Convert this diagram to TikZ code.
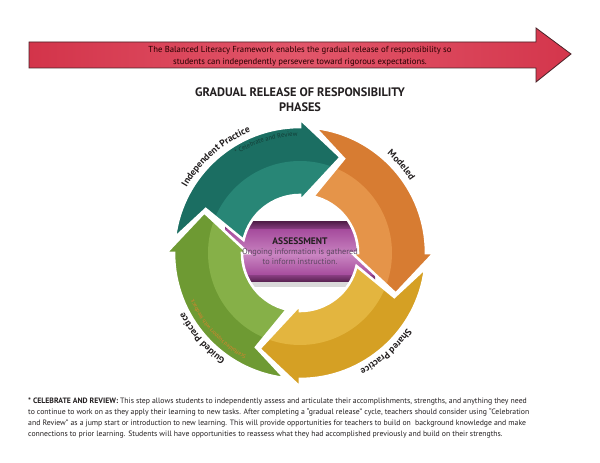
\documentclass[tikz,border=0pt]{standalone}
\usepackage{fontspec}
\setmainfont{PT Sans}
\usetikzlibrary{decorations.text}
\definecolor{redA}{HTML}{D3344A}
\definecolor{redB}{HTML}{E2566A}
\definecolor{redEdge}{HTML}{4A2228}
\definecolor{tealA}{HTML}{1B6E62}
\definecolor{tealB}{HTML}{288676}
\definecolor{orA}{HTML}{D77C32}
\definecolor{orB}{HTML}{E59449}
\definecolor{yeA}{HTML}{D5A024}
\definecolor{yeB}{HTML}{E3B53F}
\definecolor{grA}{HTML}{6E9A33}
\definecolor{grB}{HTML}{86B048}
\definecolor{puDark}{HTML}{55204D}
\definecolor{puMid}{HTML}{A4499B}
\definecolor{puLight}{HTML}{C984C1}
\definecolor{puText}{HTML}{5E4762}
\definecolor{txtDark}{HTML}{231F20}
\definecolor{celeb}{HTML}{123C36}
\definecolor{orText}{HTML}{D9822E}
\def\ringarrowpath#1{({#1+83}:126) arc[start angle={#1+83}, end angle={#1}, radius=126] -- ({#1}:134) -- ({#1-23}:104) -- ({#1}:52) -- ({#1}:58) arc[start angle={#1}, end angle={#1+77}, radius=58] -- ({#1+65}:104) -- cycle}
\tikzset{
  labeltext/.style={decorate, decoration={text along path, text align=center, text={|\bfseries\fontsize{9.5}{10}\selectfont\color{txtDark}|#1}}},
  smalltext/.style={font=\fontsize{7.75}{9}\selectfont, text=txtDark, inner sep=0pt}
}
\begin{document}
\begin{tikzpicture}[x=1pt,y=1pt]
\useasboundingbox (0,0) rectangle (600,463);
\fill[white] (0,0) rectangle (600,463);
% top red arrow
\path[draw=redEdge, line width=0.8pt, left color=redA, right color=redA!95!redB, middle color=redB, line join=miter]
  (29,421) -- (536,421) -- (536,435) -- (571,409) -- (536,381) -- (536,395) -- (29,395) -- cycle;
\node[inner sep=0pt, align=center, font=\fontsize{8.7}{12}\selectfont, text=black!85!red] (redtxt) at (300,407)
  {The Balanced Literacy Framework enables the gradual release of responsibility so\\students can independently persevere toward rigorous expectations.};
% title
\node[font=\bfseries\fontsize{12.3}{15}\selectfont, text=txtDark, align=center, inner sep=0pt] (title) at (300,363)
  {GRADUAL RELEASE OF RESPONSIBILITY\\PHASES};
% assessment box
\fill[black, opacity=0.15] (227,176) rectangle (377,181);
\shade[top color=puMid, bottom color=puLight] (225,235) rectangle (375,208);
\shade[top color=puLight, bottom color=puMid] (225,208.2) rectangle (375,187);
\shade[top color=puDark, bottom color=puMid!80!black] (225,241) rectangle (375,234.8);
\shade[top color=puMid!80!black, bottom color=puDark] (225,187.2) rectangle (375,181);
% ring
\begin{scope}[shift={(300,210)}]
\foreach \B/\c/\l in {90/tealA/tealB, 0/orA/orB, -90/yeA/yeB, -180/grA/grB} {
  \fill[\c] \ringarrowpath{\B};
  \begin{scope}
    \clip \ringarrowpath{\B};
    \fill[\l] (0,0) circle (92);
  \end{scope}
  \draw[white, line width=2.6pt, line join=miter] \ringarrowpath{\B};
}
\path[labeltext={Independent Practice}] (156:131) arc[start angle=156, end angle=106, radius=131];
\path[labeltext={Modeled}] (56:132) arc[start angle=56, end angle=26, radius=132];
\path[labeltext={Shared Practice}] (-28:131) arc[start angle=-28, end angle=-70, radius=131];
\path[labeltext={Guided Practice}] (-118:130) arc[start angle=-118, end angle=-160, radius=130];
\path[decorate, decoration={text along path, text align=center, text={|\fontsize{6.5}{7}\selectfont\color{celeb}|* Celebrate and Review}}]
  (132:117) arc[start angle=132, end angle=82, radius=117];
\path[decorate, decoration={text along path, text align=center, text={|\fontsize{5.5}{6}\selectfont\color{orText}|Scaffolded support with feedback}}]
  (-112:116) arc[start angle=-112, end angle=-162, radius=116];
\end{scope}
% assessment text
\node[font=\bfseries\fontsize{9.5}{10}\selectfont, text=txtDark, inner sep=0pt] (assess) at (300,222) {ASSESSMENT};
\node[font=\fontsize{8.3}{10}\selectfont, text=puText, align=center, inner sep=0pt] (assesstxt) at (300,206)
  {Ongoing information is gathered\\to inform instruction.};
% bottom paragraph
\node[smalltext, anchor=base west] (p1) at (28,59) {\textbf{* CELEBRATE AND REVIEW:} This step allows students to independently assess and articulate their accomplishments, strengths, and anything they need};
\node[smalltext, anchor=base west] (p2) at (28,48) {to continue to work on as they apply their learning to new tasks. After completing a “gradual release” cycle, teachers should consider using “Celebration};
\node[smalltext, anchor=base west] (p3) at (28,37) {and Review” as a jump start or introduction to new learning. This will provide opportunities for teachers to build on\ \ background knowledge and make};
\node[smalltext, anchor=base west] (p4) at (28,26) {connections to prior learning. Students will have opportunities to reassess what they had accomplished previously and build on their strengths.};
\end{tikzpicture}
\end{document}
